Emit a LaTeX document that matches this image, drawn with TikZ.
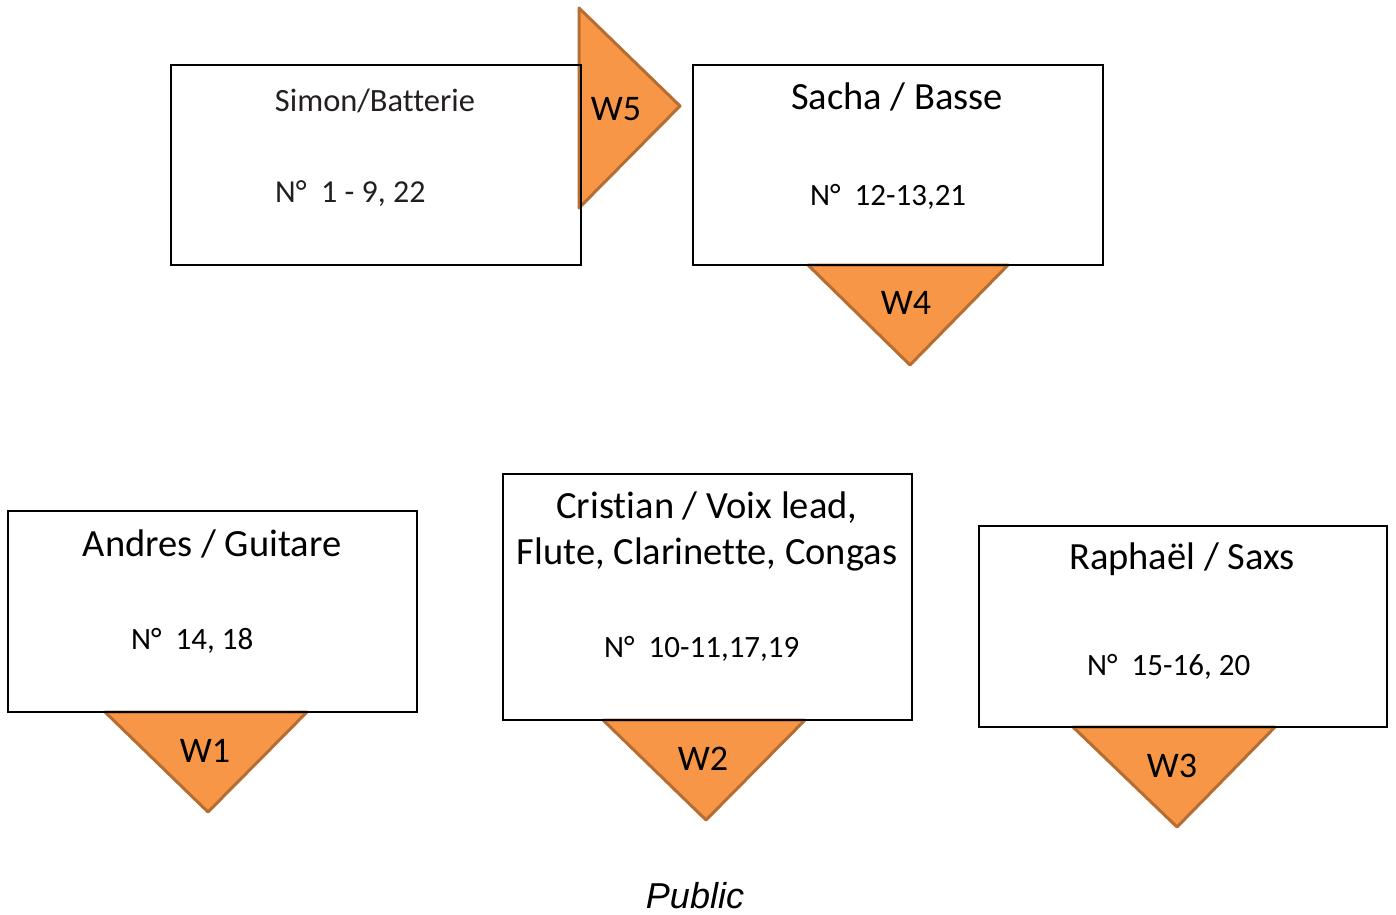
\documentclass[tikz,border=0pt]{standalone}
\usepackage{fontspec}
\setmainfont{Carlito}[Ligatures=NoCommon]
\newfontfamily\pubfont{Liberation Sans}
\definecolor{wfill}{HTML}{F79646}
\definecolor{wline}{HTML}{B66D31}
\definecolor{simongray}{HTML}{231F20}
\begin{document}
\begin{tikzpicture}[x=1pt,y=-1pt,
  box/.style={draw=black,line width=2pt},
  wtri/.style={fill=wfill,draw=wline,line width=3pt,line join=round},
  title/.style={font=\fontsize{38.5}{46}\selectfont,align=center,inner sep=0pt,text=black},
  num/.style={font=\fontsize{31}{38}\selectfont,anchor=west,inner sep=0pt,text=black},
  wlab/.style={font=\fontsize{36}{44}\selectfont,inner sep=0pt,text=black}]
\useasboundingbox (0,0) rectangle (1396,914);
% triangles
\draw[wtri] (579,8) -- (680,106) -- (579,208) -- cycle;
\draw[wtri] (808,265) -- (1008,265) -- (910,365) -- cycle;
\draw[wtri] (105,712) -- (307,712) -- (208,812) -- cycle;
\draw[wtri] (603,720) -- (805,720) -- (706,820) -- cycle;
\draw[wtri] (1073,727) -- (1275,727) -- (1177,827) -- cycle;
% boxes
\draw[box] (171,65) rectangle (581,265);
\draw[box] (693,65) rectangle (1103,265);
\draw[box] (8,511) rectangle (417,712);
\draw[box] (503,474) rectangle (912,720);
\draw[box] (979,526) rectangle (1387,727);
% labels
\node[wlab] (w5) at (616,109) {W5};
\node[wlab] (w4) at (906,303) {W4};
\node[wlab] (w1) at (205,751) {W1};
\node[wlab] (w2) at (703,759) {W2};
\node[wlab] (w3) at (1172,766) {W3};
% texts
\node[title,font=\fontsize{32.5}{40}\selectfont,text=simongray] (t1) at (375,101) {Simon/Batterie};
\node[num,text=simongray,font=\fontsize{32}{38}\selectfont] (n1) at (275,194) {N°\hspace{0.45em}1 - 9, 22};
\node[title] (t2) at (897,97) {Sacha / Basse};
\node[num] (n2) at (810,197) {N°\hspace{0.45em}12-13,21};
\node[title] (t3) at (212,544) {Andres / Guitare};
\node[num] (n3) at (131,641) {N°\hspace{0.45em}14, 18};
\node[title] (t4) at (707,531) {Cristian / Voix lead,\\Flute, Clarinette, Congas};
\node[num] (n4) at (604,649) {N°\hspace{0.45em}10-11,17,19};
\node[title] (t5) at (1182,559) {Raphaël / Saxs};
\node[num] (n5) at (1087,667) {N°\hspace{0.45em}15-16, 20};
\node[font=\pubfont\itshape\fontsize{36}{44}\selectfont,inner sep=0pt] (pub) at (695,896) {Public};
\end{tikzpicture}
\end{document}
